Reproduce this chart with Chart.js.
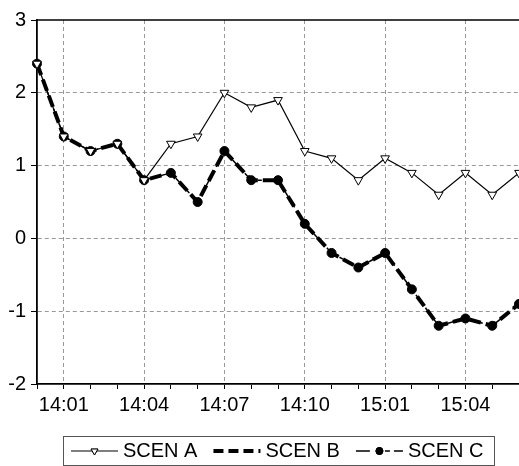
<!DOCTYPE html>
<html>
<head>
<meta charset="utf-8">
<script src="https://cdn.jsdelivr.net/npm/chart.js@4/dist/chart.umd.min.js"></script>
<style>
  html, body { margin: 0; padding: 0; background: #fff; }
  #wrap { width: 519px; height: 466px; }
</style>
</head>
<body>
<div id="wrap"><canvas id="myChart" width="519" height="466"></canvas></div>
<script>
// time labels (one per minute)
var labels = ['14:00', '14:01', '14:02', '14:03', '14:04', '14:05', '14:06', '14:07', '14:08', '14:09',
  '14:10', '14:11', '15:00', '15:01', '15:02', '15:03', '15:04', '15:05', '15:06'];

var scenA = [2.4, 1.4, 1.2, 1.3, 0.8, 1.3, 1.4, 2.0, 1.8, 1.9, 1.2, 1.1, 0.8, 1.1, 0.9, 0.6, 0.9, 0.6, 0.9];
var scenB = [2.4, 1.4, 1.2, 1.3, 0.8, 0.9, 0.5, 1.2, 0.8, 0.8, 0.2, -0.2, -0.4, -0.2, -0.7, -1.2, -1.1, -1.2, -0.9];
var scenC = [2.4, 1.4, 1.2, 1.3, 0.8, 0.9, 0.5, 1.2, 0.8, 0.8, 0.2, -0.2, -0.4, -0.2, -0.7, -1.2, -1.1, -1.2, -0.9];

var yTicks = [-2, -1, 0, 1, 2, 3];

var FONT = 'Liberation Sans, Arial, sans-serif';

// top frame line + boxed legend under the axis
var framePlugin = {
  id: 'frame',
  afterDraw: function (chart) {
    var ctx = chart.ctx;
    var area = chart.chartArea;
    ctx.save();
    ctx.strokeStyle = '#000';
    ctx.lineWidth = 1.5;
    ctx.beginPath();
    ctx.moveTo(area.left, area.top);
    ctx.lineTo(area.right, area.top);
    ctx.stroke();

    // legend box
    var bx = 63, by = 436, bw = 431, bh = 29;
    ctx.strokeStyle = '#555';
    ctx.lineWidth = 1;
    ctx.strokeRect(bx + 0.5, by + 0.5, bw, bh);

    ctx.font = '20px ' + FONT;
    ctx.fillStyle = '#000';
    ctx.textBaseline = 'middle';
    var cy = by + 15;
    var x = bx + 8;
    chart.data.datasets.forEach(function (ds) {
      var w = 47;
      ctx.save();
      ctx.strokeStyle = '#000';
      ctx.lineWidth = ds.borderWidth;
      ctx.setLineDash(ds.legendDash || ds.borderDash || []);
      ctx.beginPath();
      ctx.moveTo(x, cy);
      ctx.lineTo(x + w, cy);
      ctx.stroke();
      ctx.restore();
      if (ds.pointRadius > 0) {
        Chart.helpers.drawPoint(ctx, {
          pointStyle: ds.pointStyle,
          rotation: ds.pointRotation || 0,
          radius: ds.pointRadius - 1,
          borderWidth: 1
        }, x + w / 2, cy);
        ctx.fillStyle = ds.pointBackgroundColor;
        ctx.strokeStyle = '#000';
        ctx.lineWidth = 1;
        ctx.fill();
        ctx.stroke();
        ctx.fillStyle = '#000';
      }
      ctx.fillText(ds.label, x + w + 5, cy);
      x += w + 5 + ctx.measureText(ds.label).width + 16;
    });
    ctx.restore();
  }
};

var ctx = document.getElementById('myChart').getContext('2d');
var myChart = new Chart(ctx, {
  type: 'line',
  data: {
    labels: labels,
    datasets: [{
      label: 'SCEN A',
      data: scenA,
      borderColor: '#000',
      borderWidth: 1.2,
      pointStyle: 'triangle',
      pointRotation: 180,
      pointRadius: 5,
      pointBorderWidth: 1,
      pointBackgroundColor: '#fff',
      pointBorderColor: '#000',
      tension: 0,
      clip: false
    }, {
      label: 'SCEN B',
      data: scenB,
      borderColor: '#000',
      borderWidth: 4,
      borderDash: [12, 5],
      legendDash: [10, 5],
      pointRadius: 0,
      tension: 0,
      clip: false
    }, {
      label: 'SCEN C',
      data: scenC,
      borderColor: '#000',
      borderWidth: 1.5,
      borderDash: [12, 4, 4, 4],
      legendDash: [14, 6, 5, 4, 5, 4],
      pointStyle: 'circle',
      pointRadius: 4.5,
      pointBorderWidth: 1,
      pointBackgroundColor: '#000',
      pointBorderColor: '#000',
      tension: 0,
      clip: false
    }]
  },
  options: {
    responsive: false,
    animation: false,
    events: [],
    layout: { autoPadding: false, padding: { top: 20, right: 0, bottom: 46, left: 0 } },
    plugins: {
      legend: { display: false },
      tooltip: { enabled: false }
    },
    scales: {
      x: {
        offset: false,
        afterFit: function (scale) {
          scale.height = 36;
          scale.paddingRight = 0;
          scale.paddingLeft = 0;
        },
        grid: {
          color: function (c) { return c.index % 3 === 1 ? '#999' : 'rgba(0,0,0,0)'; },
          tickColor: '#000',
          tickLength: 5,
          lineWidth: 1
        },
        border: { color: '#000', width: 1.8, dash: [4, 3] },
        ticks: {
          autoSkip: false,
          maxRotation: 0,
          padding: 4,
          color: '#000',
          font: { family: FONT, size: 20 },
          callback: function (val, i) { return i % 3 === 1 ? labels[i] : ''; }
        }
      },
      y: {
        min: yTicks[0],
        max: yTicks[yTicks.length - 1],
        afterFit: function (scale) { scale.width = 37; },
        afterBuildTicks: function (scale) {
          scale.ticks = yTicks.map(function (v) { return { value: v }; });
        },
        grid: {
          color: function (c) {
            var v = c.tick ? c.tick.value : null;
            return (v === yTicks[0] || v === yTicks[yTicks.length - 1]) ? 'rgba(0,0,0,0)' : '#999';
          },
          tickColor: '#000',
          tickLength: 6,
          lineWidth: 1
        },
        border: { color: '#000', width: 1.8, dash: [4, 3] },
        ticks: {
          padding: 5,
          color: '#000',
          font: { family: FONT, size: 20 }
        }
      }
    }
  },
  plugins: [framePlugin]
});
</script>
</body>
</html>
